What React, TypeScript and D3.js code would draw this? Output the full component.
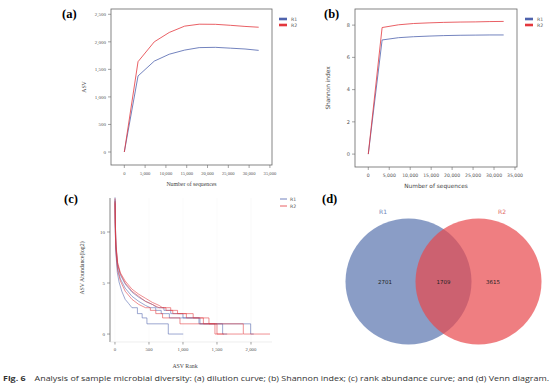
import React from 'react'
import * as d3 from 'd3'

// rarefaction depths (number of sequences)
const seqDepth = [0, 3300, 7200, 10800, 14500, 18000, 21900, 25500, 29000, 32300]
const asvR1 = [0, 1380, 1650, 1775, 1850, 1895, 1900, 1885, 1870, 1845]
const asvR2 = [0, 1640, 2000, 2170, 2285, 2320, 2318, 2300, 2280, 2265]
const shannonR1 = [0, 7.08, 7.22, 7.28, 7.32, 7.35, 7.37, 7.38, 7.39, 7.39]
const shannonR2 = [0, 7.85, 8.02, 8.1, 8.14, 8.17, 8.19, 8.2, 8.22, 8.23]

const groups = ['R1', 'R2']
const seqTicks = [0, 5000, 10000, 15000, 20000, 25000, 30000, 35000]
const asvTicks = [0, 500, 1000, 1500, 2000, 2500]
const shannonTicks = [0, 2, 4, 6, 8]
const rankTicks = [0, 500, 1000, 1500, 2000]
const abundTicks = [0, 5, 10]

// rank abundance, [rank, log2 abundance]
const rankR1a = [[1, 13], [5, 10], [15, 7.8], [35, 6], [60, 5.1], [100, 4.2], [150, 3.4], [200, 3], [250, 2.58], [330, 2.58], [330, 2], [400, 2], [400, 1.58], [470, 1.58], [470, 1], [784, 1], [784, 0], [1004, 0]]
const rankR1b = [[1, 13.2], [5, 10.5], [15, 8.2], [40, 6.4], [80, 5.4], [150, 4.5], [250, 3.7], [350, 3.2], [450, 2.8], [520, 2.58], [600, 2.58], [600, 2.32], [680, 2.32], [680, 2], [800, 2], [800, 1.58], [1235, 1.58], [1235, 1], [1583, 1], [1583, 0], [1650, 0]]
const rankR1c = [[1, 13.4], [5, 11], [15, 8.5], [40, 6.8], [80, 5.8], [150, 4.9], [250, 4.1], [350, 3.6], [450, 3.2], [550, 2.9], [620, 2.58], [720, 2.58], [720, 2.32], [820, 2.32], [820, 2], [1000, 2], [1000, 1.58], [1250, 1.58], [1250, 1], [1995, 1], [1995, 0], [2040, 0]]
const rankR2a = [[1, 12.8], [5, 10], [15, 8], [40, 6.2], [80, 5.2], [150, 4.2], [250, 3.4], [350, 2.9], [450, 2.58], [520, 2.58], [520, 2.32], [600, 2.32], [600, 2], [700, 2], [700, 1.58], [956, 1.58], [956, 1], [1470, 1], [1470, 0], [1880, 0]]
const rankR2b = [[1, 13], [5, 10.8], [15, 8.6], [40, 6.8], [80, 5.9], [150, 5], [250, 4.2], [350, 3.7], [450, 3.2], [550, 2.9], [650, 2.58], [750, 2.58], [750, 2.32], [850, 2.32], [850, 2], [1050, 2], [1050, 1.58], [1382, 1.58], [1382, 1], [1887, 1], [1887, 0], [2280, 0]]
const rankR2c = [[1, 13.3], [5, 11], [15, 8.8], [40, 7], [80, 6], [150, 5.2], [250, 4.4], [350, 3.9], [450, 3.5], [550, 3.1], [650, 2.8], [700, 2.58], [820, 2.58], [820, 2.32], [920, 2.32], [920, 2], [1150, 2], [1150, 1.58], [1300, 1.58], [1300, 1], [1500, 1], [1500, 0], [1600, 0]]

const vennLabels = ['R1', 'R2']
const vennCounts = [2701, 1709, 3615]

const blue = '#4f63ad'
const red = '#e3373d'
const serif = '"Liberation Serif", "Times New Roman", serif'
const sans = '"DejaVu Sans", "Liberation Sans", sans-serif'
const fmt = d3.format(',')

function FramedPanel({ x, y, yTicks, yLabel, series, font, legendX }) {
  const line = d3.line<number>()
    .x((d, i) => x(seqDepth[i]))
    .y(d => y(d))
  const [x0, x1] = x.range()
  const [y0, y1] = y.range()
  return (
    <g fontFamily={font}>
      {series.map((s, i) => (
        <path key={i} d={line(s) || ''} fill='none' stroke={i === 0 ? blue : red} strokeWidth={0.8} />
      ))}
      <rect x={x0} y={y1} width={x1 - x0} height={y0 - y1} fill='none' stroke='#666' strokeWidth={0.8} />
      {yTicks.map(t => (
        <g key={t} transform={`translate(${x0},${y(t)})`}>
          <line x1={-3} x2={0} stroke='#666' strokeWidth={0.6} />
          <text x={-5} dy='0.35em' textAnchor='end' fontSize={5} fill='#555'>{fmt(t)}</text>
        </g>
      ))}
      {seqTicks.map(t => (
        <g key={t} transform={`translate(${x(t)},${y0})`}>
          <line y1={0} y2={3} stroke='#666' strokeWidth={0.6} />
          <text y={10} textAnchor='middle' fontSize={4.6} fill='#555'>{fmt(t)}</text>
        </g>
      ))}
      <text x={(x0 + x1) / 2} y={y0 + 21} textAnchor='middle' fontSize={5.8} fill='#444'>Number of sequences</text>
      <text transform={`translate(${x0 - 25},${(y0 + y1) / 2}) rotate(-90)`} textAnchor='middle' fontSize={5.8} fill='#444'>{yLabel}</text>
      {groups.map((g, i) => (
        <g key={g} transform={`translate(${legendX},${19 + i * 6})`}>
          <rect x={0} y={-1.3} width={8} height={2.6} fill={i === 0 ? blue : red} />
          <text x={12} dy='0.35em' fontSize={4.6} fill='#555' fontFamily={sans}>{g}</text>
        </g>
      ))}
    </g>
  )
}

export default function App() {
  const xA = d3.scaleLinear().domain([-3200, 35500]).range([111, 272])
  const yA = d3.scaleLinear().domain([-236, 2596]).range([165, 9])
  const xB = d3.scaleLinear().domain([-3170, 35480]).range([355, 517])
  const yB = d3.scaleLinear().domain([-0.8, 9.0]).range([167, 9])

  const xC = d3.scaleLinear().domain([-73, 2309]).range([110, 272])
  const yC = d3.scaleLinear().domain([-0.78, 13.33]).range([342, 198])
  const rankLine = d3.line<number[]>().x(d => xC(d[0])).y(d => yC(d[1]))
  const rankSeries = [
    { d: rankR1a, c: blue }, { d: rankR1b, c: blue }, { d: rankR1c, c: blue },
    { d: rankR2a, c: red }, { d: rankR2b, c: red }, { d: rankR2c, c: red },
  ]

  const vennR = 63
  const vennCx = [408.5, 478.5]
  const vennCy = 281.5

  return (
    <svg width={554} height={388} style={{ position: 'absolute', left: 0, top: 0, background: '#fff' }}>
      {/* (a) rarefaction */}
      <text x={62} y={18} fontFamily={serif} fontWeight='bold' fontSize={12.5}>(a)</text>
      <FramedPanel x={xA} y={yA} yTicks={asvTicks} yLabel='ASV' series={[asvR1, asvR2]} font={serif} legendX={279} />

      {/* (b) shannon */}
      <text x={324} y={18} fontFamily={serif} fontWeight='bold' fontSize={12.5}>(b)</text>
      <FramedPanel x={xB} y={yB} yTicks={shannonTicks} yLabel='Shannon index' series={[shannonR1, shannonR2]} font={sans} legendX={525} />

      {/* (c) rank abundance */}
      <text x={64} y={203} fontFamily={serif} fontWeight='bold' fontSize={12.5}>(c)</text>
      <g fontFamily={serif}>
        {rankTicks.map(t => (
          <line key={'g' + t} x1={xC(t)} x2={xC(t)} y1={198} y2={342} stroke='#f7f7f7' strokeWidth={0.6} />
        ))}
        {rankSeries.map((s, i) => (
          <path key={i} d={rankLine(s.d) || ''} fill='none' stroke={s.c} strokeWidth={0.7} strokeOpacity={0.8} />
        ))}
        <line x1={110} x2={110} y1={198} y2={342} stroke='#666' strokeWidth={0.8} />
        <line x1={110} x2={272} y1={342} y2={342} stroke='#e2e2e2' strokeWidth={0.6} />
        {abundTicks.map(t => (
          <g key={t} transform={`translate(110,${yC(t)})`}>
            <line x1={-3} x2={0} stroke='#666' strokeWidth={0.6} />
            <text x={-5} dy='0.35em' textAnchor='end' fontSize={5} fill='#555'>{t}</text>
          </g>
        ))}
        {rankTicks.map(t => (
          <g key={t} transform={`translate(${xC(t)},342)`}>
            <line y1={0} y2={2.5} stroke='#666' strokeWidth={0.6} />
            <text y={9} textAnchor='middle' fontSize={4.8} fill='#555'>{fmt(t)}</text>
          </g>
        ))}
        <text x={185} y={368} textAnchor='middle' fontSize={5.8} fill='#444'>ASV Rank</text>
        <text transform='translate(84,268) rotate(-90)' textAnchor='middle' fontSize={5.8} fill='#444'>ASV Abundance(log2)</text>
        {groups.map((g, i) => (
          <g key={g} transform={`translate(280,${199 + i * 7})`}>
            <line x1={0} x2={7} stroke={i === 0 ? blue : red} strokeWidth={0.8} />
            <text x={10} dy='0.35em' fontSize={4.6} fill='#555' fontFamily={sans}>{g}</text>
          </g>
        ))}
      </g>

      {/* (d) venn */}
      <text x={322} y={203} fontFamily={serif} fontWeight='bold' fontSize={12.5}>(d)</text>
      <g fontFamily={sans}>
        <circle cx={vennCx[0]} cy={vennCy} r={vennR} fill='#4c68a8' fillOpacity={0.65} />
        <circle cx={vennCx[1]} cy={vennCy} r={vennR} fill='#e8474c' fillOpacity={0.7} />
        <text x={383} y={214} textAnchor='middle' fontSize={6} fill='#6e82b8'>{vennLabels[0]}</text>
        <text x={502} y={214} textAnchor='middle' fontSize={6} fill='#e06666'>{vennLabels[1]}</text>
        <text x={385} y={284} textAnchor='middle' fontSize={5.5} fill='#222'>{vennCounts[0]}</text>
        <text x={443.5} y={284} textAnchor='middle' fontSize={5.5} fill='#222'>{vennCounts[1]}</text>
        <text x={493} y={284} textAnchor='middle' fontSize={5.5} fill='#222'>{vennCounts[2]}</text>
      </g>

      {/* caption */}
      <text x={3} y={381} fontFamily='"Open Sans", "DejaVu Sans", sans-serif' fontSize={7.8} fill='#333' textLength={546} lengthAdjust='spacingAndGlyphs'>
        <tspan fontWeight='bold'>Fig. 6</tspan>
        <tspan>{'\u2002\u2002Analysis of sample microbial diversity: (a) dilution curve; (b) Shannon index; (c) rank abundance curve; and (d) Venn diagram.'}</tspan>
      </text>
    </svg>
  )
}
